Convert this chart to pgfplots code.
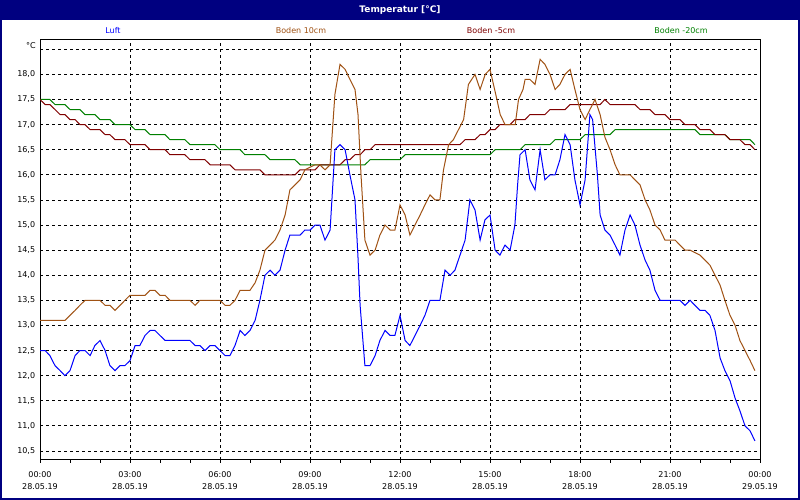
\documentclass[border=0pt]{standalone}
\usepackage{pgfplots}
\pgfplotsset{compat=1.18}
\usepackage{fontspec}
\setmainfont{DejaVu Sans}
\definecolor{luft}{RGB}{0,0,255}
\definecolor{bzehn}{RGB}{160,82,20}
\definecolor{bfuenf}{RGB}{128,0,0}
\definecolor{bzwanzig}{RGB}{0,128,0}
\definecolor{titlenavy}{RGB}{0,0,128}
\begin{document}
\fontsize{8bp}{9.6bp}\selectfont
\begin{tikzpicture}[x=1bp,y=1bp]
\fill[white] (0,0) rectangle (800,500);
\fill[titlenavy] (0,480) rectangle (800,500);
\node[text=white,font=\fontsize{9bp}{10bp}\selectfont\bfseries] at (400,490) {Temperatur [°C]};
\draw[titlenavy, line width=2bp] (1,480) -- (1,1) -- (799,1) -- (799,480);
\node[text=luft] at (113,469) {Luft};
\node[text=bzehn] at (301,469) {Boden 10cm};
\node[text=bfuenf] at (491,469) {Boden -5cm};
\node[text=bzwanzig] at (681,469) {Boden -20cm};
\node at (31,454) {°C};
\begin{axis}[
  at={(40bp,40bp)}, anchor=south west,
  width=720bp, height=420bp, scale only axis,
  xmin=0, xmax=24, ymin=10.32, ymax=18.685,
  xtick={0,3,...,24},
  minor xtick={1,2,4,5,7,8,10,11,13,14,16,17,19,20,22,23},
  xticklabels={{00:00\\28.05.19},{03:00\\28.05.19},{06:00\\28.05.19},{09:00\\28.05.19},{12:00\\28.05.19},{15:00\\28.05.19},{18:00\\28.05.19},{21:00\\28.05.19},{00:00\\29.05.19}},
  ytick={10.5,11,11.5,12,12.5,13,13.5,14,14.5,15,15.5,16,16.5,17,17.5,18,18.5},
  yticklabels={{10,5},{11,0},{11,5},{12,0},{12,5},{13,0},{13,5},{14,0},{14,5},{15,0},{15,5},{16,0},{16,5},{17,0},{17,5},{18,0},{}},
  grid=major,
  major grid style={black, dash pattern=on 3bp off 3bp, line width=0.8bp},
  axis line style={black, line width=1bp},
  tick align=outside, major tick length=3bp, minor tick length=3bp,
  xtick pos=lower, ytick pos=left,
  ytick style={draw=none},
  xtick style={black, line width=0.8bp},
  x tick label style={align=center, font=\fontsize{8bp}{12.5bp}\selectfont, yshift=-5.5bp},
  y tick label style={font=\fontsize{8bp}{9.6bp}\selectfont, xshift=1bp},
  /pgf/number format/assume math mode=true,
  every axis plot/.append style={line width=1bp, no markers},
]
\addplot[bzwanzig] coordinates {
(0,17.5)(0.33,17.5)(0.5,17.4)(0.83,17.4)(1.0,17.3)(1.33,17.3)(1.5,17.2)(1.83,17.2)(2.0,17.1)(2.33,17.1)(2.5,17.0)(3.0,17.0)(3.17,16.9)(3.5,16.9)(3.67,16.8)(4.17,16.8)(4.33,16.7)(4.83,16.7)(5.0,16.6)(5.83,16.6)(6.0,16.5)(6.67,16.5)(6.83,16.4)(7.5,16.4)(7.67,16.3)(8.5,16.3)(8.67,16.2)(10.83,16.2)(11.0,16.3)(12.0,16.3)(12.17,16.4)(15.0,16.4)(15.17,16.5)(16.0,16.5)(16.17,16.6)(17.0,16.6)(17.17,16.7)(18.0,16.7)(18.17,16.8)(19.0,16.8)(19.17,16.9)(21.83,16.9)(22.0,16.8)(22.83,16.8)(23.0,16.7)(23.67,16.7)(23.83,16.6)
};
\addplot[bfuenf] coordinates {
(0,17.5)(0.17,17.4)(0.33,17.4)(0.5,17.3)(0.67,17.2)(0.83,17.2)(1.0,17.1)(1.17,17.1)(1.33,17.0)(1.5,17.0)(1.67,16.9)(2.0,16.9)(2.17,16.8)(2.33,16.8)(2.5,16.7)(2.83,16.7)(3.0,16.6)(3.5,16.6)(3.67,16.5)(4.17,16.5)(4.33,16.4)(4.83,16.4)(5.0,16.3)(5.5,16.3)(5.67,16.2)(6.33,16.2)(6.5,16.1)(7.33,16.1)(7.5,16.0)(8.5,16.0)(8.67,16.1)(9.17,16.1)(9.33,16.2)(10.0,16.2)(10.17,16.3)(10.33,16.3)(10.5,16.4)(10.67,16.4)(10.83,16.5)(11.0,16.5)(11.17,16.6)(14.0,16.6)(14.17,16.7)(14.5,16.7)(14.67,16.8)(14.83,16.8)(15.0,16.9)(15.17,16.9)(15.33,17.0)(15.67,17.0)(15.83,17.1)(16.17,17.1)(16.33,17.2)(16.83,17.2)(17.0,17.3)(17.5,17.3)(17.67,17.4)(18.67,17.4)(18.83,17.5)(19.0,17.4)(19.83,17.4)(20.0,17.3)(20.33,17.3)(20.5,17.2)(20.83,17.2)(21.0,17.1)(21.33,17.1)(21.5,17.0)(21.83,17.0)(22.0,16.9)(22.33,16.9)(22.5,16.8)(22.83,16.8)(23.0,16.7)(23.33,16.7)(23.5,16.6)(23.67,16.6)(23.83,16.5)
};
\addplot[bzehn] coordinates {
(0,13.1)(0.83,13.1)(1.0,13.2)(1.17,13.3)(1.33,13.4)(1.5,13.5)(2.0,13.5)(2.17,13.4)(2.33,13.4)(2.5,13.3)(2.67,13.4)(2.83,13.5)(3.0,13.6)(3.5,13.6)(3.67,13.7)(3.83,13.7)(4.0,13.6)(4.17,13.6)(4.33,13.5)(5.0,13.5)(5.17,13.4)(5.33,13.5)(6.0,13.5)(6.17,13.4)(6.33,13.4)(6.5,13.5)(6.67,13.7)(7.0,13.7)(7.17,13.85)(7.33,14.1)(7.5,14.5)(7.67,14.6)(7.83,14.7)(8.0,14.9)(8.17,15.2)(8.33,15.7)(8.5,15.8)(8.67,15.9)(8.83,16.1)(9.0,16.15)(9.17,16.2)(9.33,16.2)(9.5,16.1)(9.67,16.2)(9.83,17.6)(10.0,18.2)(10.17,18.1)(10.33,17.9)(10.5,17.7)(10.6,17.2)(10.7,16.0)(10.83,14.7)(11.0,14.4)(11.17,14.5)(11.33,14.8)(11.5,15.0)(11.67,14.9)(11.83,14.9)(12.0,15.4)(12.17,15.2)(12.33,14.8)(12.5,15.0)(12.67,15.2)(12.83,15.4)(13.0,15.6)(13.17,15.5)(13.33,15.5)(13.45,16.1)(13.62,16.6)(13.78,16.7)(13.95,16.9)(14.12,17.1)(14.28,17.8)(14.5,18.0)(14.67,17.7)(14.84,18.0)(15.0,18.1)(15.23,17.5)(15.34,17.2)(15.5,17.0)(15.84,17.0)(15.95,17.5)(16.1,17.7)(16.17,17.9)(16.33,17.9)(16.5,17.8)(16.67,18.3)(16.83,18.2)(17.0,18.0)(17.17,17.7)(17.33,17.8)(17.5,18.0)(17.67,18.1)(17.83,17.7)(18.0,17.3)(18.17,17.1)(18.33,17.3)(18.5,17.5)(18.67,17.2)(18.83,16.75)(19.0,16.5)(19.17,16.2)(19.33,16.0)(19.67,16.0)(19.83,15.9)(20.0,15.8)(20.17,15.5)(20.33,15.3)(20.5,15.0)(20.67,14.9)(20.83,14.7)(21.17,14.7)(21.33,14.6)(21.5,14.5)(21.67,14.5)(22.0,14.4)(22.17,14.3)(22.33,14.2)(22.5,14.0)(22.67,13.8)(22.83,13.5)(23.0,13.2)(23.17,13.0)(23.33,12.7)(23.5,12.5)(23.67,12.3)(23.83,12.1)
};
\addplot[luft] coordinates {
(0,12.5)(0.17,12.5)(0.33,12.4)(0.5,12.2)(0.67,12.1)(0.83,12.0)(1.0,12.1)(1.17,12.4)(1.33,12.5)(1.5,12.5)(1.67,12.4)(1.83,12.6)(2.0,12.7)(2.17,12.5)(2.33,12.2)(2.5,12.1)(2.67,12.2)(2.83,12.2)(3.0,12.3)(3.17,12.6)(3.33,12.6)(3.5,12.8)(3.67,12.9)(3.83,12.9)(4.0,12.8)(4.17,12.7)(5.0,12.7)(5.17,12.6)(5.33,12.6)(5.5,12.5)(5.67,12.6)(5.83,12.6)(6.0,12.5)(6.17,12.4)(6.33,12.4)(6.5,12.6)(6.67,12.9)(6.83,12.8)(7.0,12.9)(7.17,13.1)(7.33,13.5)(7.5,14.0)(7.67,14.1)(7.83,14.0)(8.0,14.1)(8.17,14.5)(8.33,14.8)(8.67,14.8)(8.83,14.9)(9.0,14.9)(9.17,15.0)(9.33,15.0)(9.5,14.7)(9.67,14.9)(9.83,16.5)(10.0,16.6)(10.17,16.5)(10.33,16.0)(10.5,15.5)(10.6,14.35)(10.67,13.4)(10.83,12.2)(11.0,12.2)(11.17,12.4)(11.33,12.7)(11.5,12.9)(11.67,12.8)(11.83,12.8)(12.0,13.2)(12.17,12.7)(12.33,12.6)(12.5,12.8)(12.67,13.0)(12.83,13.2)(13.0,13.5)(13.33,13.5)(13.5,14.1)(13.67,14.0)(13.83,14.1)(14.0,14.4)(14.17,14.7)(14.33,15.5)(14.5,15.3)(14.67,14.7)(14.83,15.1)(15.0,15.2)(15.17,14.5)(15.33,14.4)(15.5,14.6)(15.67,14.5)(15.83,15.0)(15.92,15.8)(16.0,16.4)(16.17,16.5)(16.33,15.9)(16.5,15.7)(16.67,16.5)(16.83,15.9)(17.0,16.0)(17.17,16.0)(17.33,16.3)(17.5,16.8)(17.67,16.6)(17.83,15.9)(18.0,15.4)(18.17,15.9)(18.33,17.2)(18.42,17.1)(18.58,16.0)(18.67,15.2)(18.83,14.9)(19.0,14.8)(19.17,14.6)(19.33,14.4)(19.5,14.9)(19.67,15.2)(19.83,15.0)(20.0,14.6)(20.17,14.3)(20.33,14.1)(20.5,13.7)(20.67,13.5)(21.33,13.5)(21.5,13.4)(21.67,13.5)(21.83,13.4)(22.0,13.3)(22.17,13.3)(22.33,13.2)(22.5,12.9)(22.67,12.35)(22.83,12.1)(23.0,11.9)(23.17,11.55)(23.33,11.3)(23.5,11.0)(23.67,10.9)(23.83,10.7)
};
\end{axis}
\end{tikzpicture}
\end{document}
